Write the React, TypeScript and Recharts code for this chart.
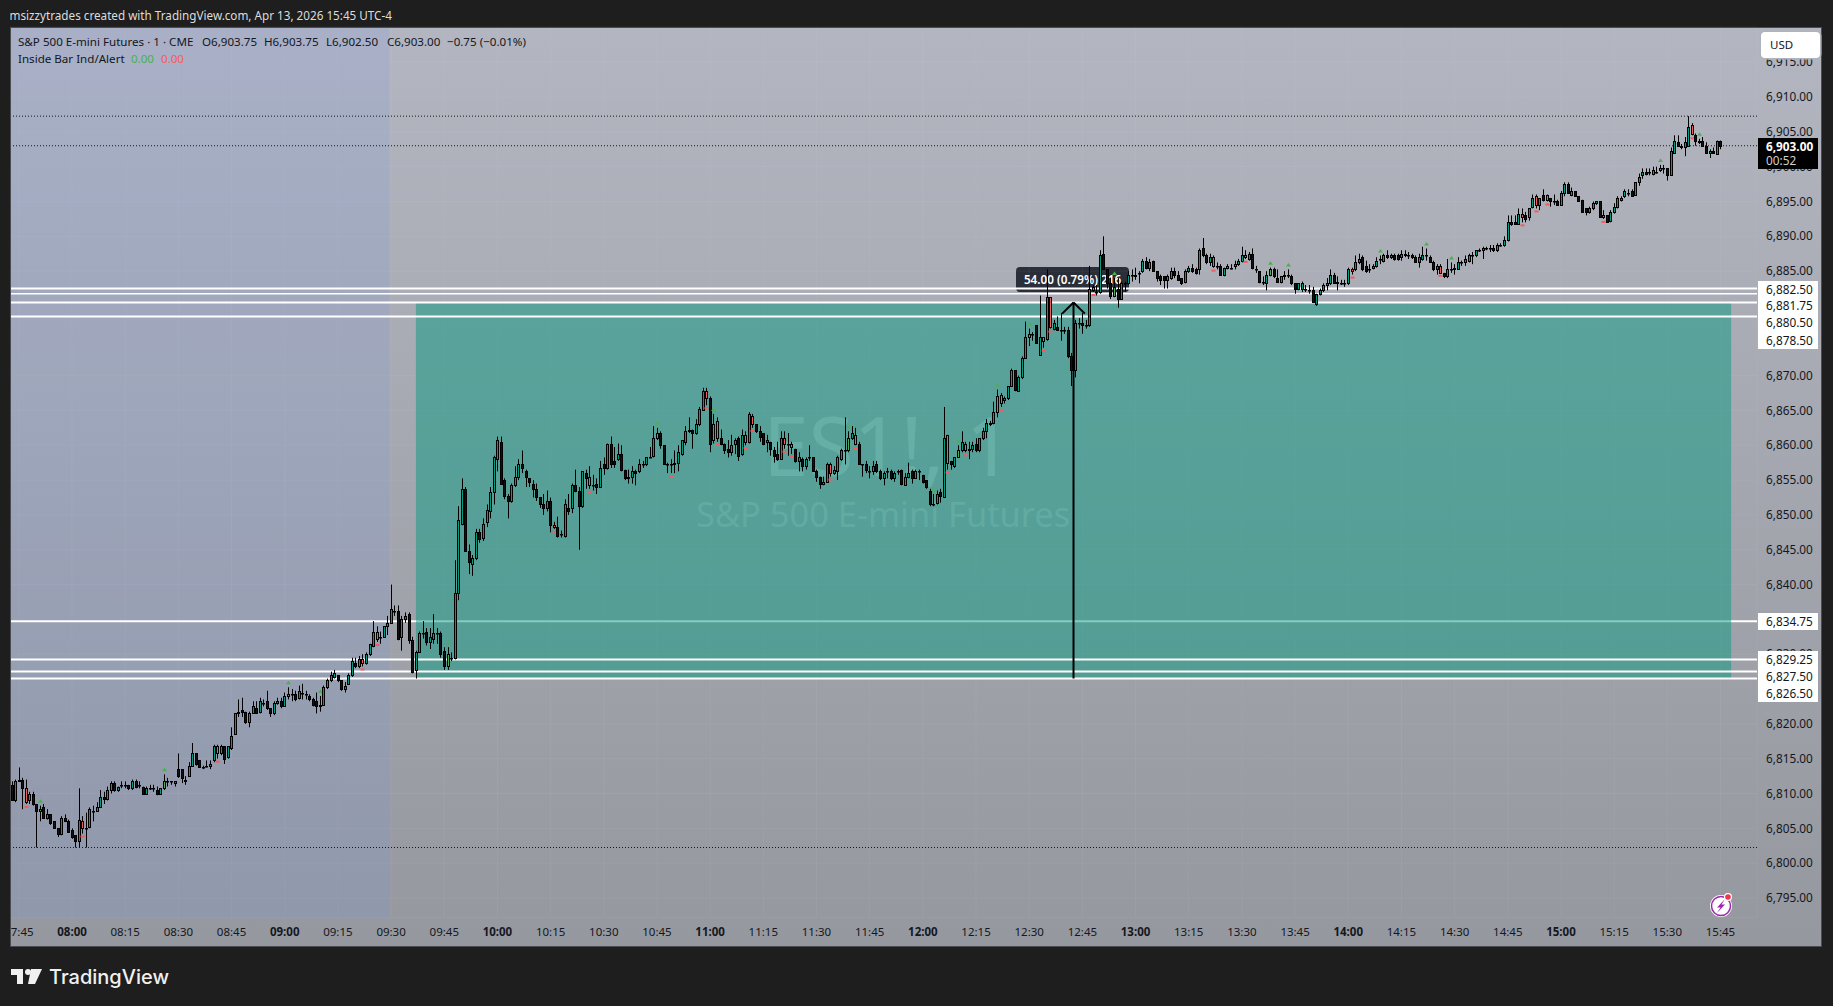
import React from "react";
import { Bar, CartesianGrid, ComposedChart, ReferenceArea, ReferenceLine, XAxis, YAxis } from "recharts";

// prices below are points above BASE, one candle per minute starting at 07:43
const BASE = 6800;
const FIRST_MINUTE = 463;

const opens = [
  11.25,9,11.75,12,10.75,9,10,8.5,7.5,8,
  6.5,7,6,5,4.25,6.5,6,4.75,4,3.25,
  6,5,5.25,7.5,7.5,8,9.5,9.25,10.5,11.5,
  10.5,11.25,11.25,11.25,10.75,11.75,11.25,11,10,10.75,
  10.75,10.5,10,10.75,11.75,11.75,11.5,13.5,13.5,11.75,
  12.5,14,15.75,14.75,13.75,14,14,14.75,16.75,15.75,
  16.75,15.25,16.5,18.5,21.5,22,21.75,20.25,21.5,22.25,
  21.75,23,23.25,22.25,21.5,23,23.25,22.5,24,24.25,
  24.25,23.75,24.5,24.25,24,23.5,23.25,22.5,22.75,25.25,
  26.25,26.75,27,26.25,25,25.75,27,28.75,28.25,29.25,
  28.75,30,31.25,33.25,32.5,32.5,34,34.5,36.25,36.25,
  32.5,35,35.75,32,27.75,30.25,33,33.25,31.75,32.25,
  33,33,30.5,28.25,29.5,29.5,38.75,48.75,53.75,44.75,
  43,43.75,47.5,46.75,49,50.5,53.25,58,60.5,55,
  52.75,52,54.25,55.5,57.25,56.25,55.25,54.5,53.75,52.5,
  51.5,51,52,48.5,48.25,47.25,47,51,51,54.25,
  53.5,51.25,56,55.5,54.25,54.5,54,57.25,56.75,60.25,
  57.75,58,58.75,56.5,55.25,55.5,56.25,56.25,57.25,57.25,
  58.25,58.5,61,61.75,60,57.25,57.25,57.25,57.5,58.75,
  60.5,62,62.25,61.75,63,65,67.75,66.75,60.75,63.5,
  61,60.25,59.5,59,60.25,61,58.75,61.5,60.5,64.25,
  63,62,61.75,60.5,60.5,59.25,58.75,58,61,60.25,
  60.25,59.5,57.75,58,57,58.25,58.25,56.25,55.5,54.5,
  54.75,57.25,56,56.25,58,59.25,59.25,61,61.5,60.25,
  57.25,57.25,56.25,56.25,57.25,56.25,55.25,56.25,56.25,55.25,
  56.25,56.5,54.25,55.5,56.25,55.25,56.25,55.75,55,53.5,
  51.5,51.75,53.25,52.5,61.5,57.75,57,58.25,59.25,60.25,
  59.25,59.5,60.25,59.25,61,62,63.25,63.25,64.75,67.25,
  66.5,66.75,68.5,70.75,67.75,69.75,72.5,75.5,76,77.25,
  73,75.5,75.25,81.25,76.75,77,76.5,76.5,76.5,72.75,
  70.75,77.5,77.5,77.25,77.25,82.75,82,82,87.5,85.25,
  83.25,81.5,82.5,81,83.25,83.25,84.5,84.5,84.75,85,
  86.5,85.5,86.5,85,84.25,84.25,83.75,84,85,84.5,
  84,83.5,85,85.5,85.25,85.25,88.25,87.25,86.25,87,
  85.75,85.75,84.5,85.5,85.5,85.75,86,86.5,87.25,86.75,
  87.5,85.25,85,83.5,83.25,84.5,85.25,84,83.5,84.25,
  84.5,84.25,83.25,82.5,82.5,82.5,82.25,82.25,80.25,81.75,
  82.25,83,83.25,84.5,83.5,83.25,83.25,83.25,85.25,85.25,
  86.25,87,85.75,85.25,85.5,85.75,86.75,86.5,87.25,87,
  87.25,87.25,87,87.5,87.25,87.25,87,86.25,86.75,87.25,
  87,86.25,85.25,85.75,84.75,84.25,85.25,85.5,85.25,86.25,
  86.25,86.5,87.25,87.25,88,88,88.25,88.25,88.25,88,
  88.75,88.75,89.5,92,92,91.75,93.25,93,92.75,94.25,
  95.75,94.5,96,96,95.5,95,95,94.5,96.25,97.5,
  96,96.5,95.75,95.25,94,93.5,94,94.75,95,93,
  93,92.25,93.5,94.25,95.25,95.75,96.25,96.5,96,97.75,
  98.75,99.25,99.25,99,99.25,99.5,99.75,99.75,98.75,102,
  103.5,103,102.75,103,106,104.5,103.75,103.75,103,102,
  102.25,101.75,103.75,
];

const highs = [
  11.75,12,13.75,12.25,12,10.25,10.25,8.5,8.25,8.5,
  7.75,7,6,5,6.75,7,6.25,5,4,10.75,
  6.75,7.25,8,8.25,8.75,10.5,10.25,11,11.75,11.75,
  11,11.75,11.75,11.25,12,12,11.75,11,11,11.25,
  11.25,11,10.75,12.75,12.25,11.75,11.75,15.75,13.5,12.5,
  14.5,17.25,15.75,14.75,14,14.75,14.75,17,17,17,
  16.75,16.75,19.5,21.5,23.5,23.75,21.75,21.75,23.25,23.25,
  23.75,23.5,24.75,22.25,23.25,23.75,23.75,24.5,25.25,25,
  24.75,25.5,25.75,24.75,24.25,23.75,24.5,24,25.5,26.5,
  27.5,27.75,27,26.25,26,27.25,29.5,29.5,29.75,30,
  30.25,31.5,34.75,34,33.25,34,35.5,40,37,37,
  35.5,36,36,32.5,30.5,33.25,34.75,33.75,33.75,35.75,
  33.75,33.25,31,31,30.25,43.5,51.25,55.25,54,45.75,
  44.25,48,48,49.5,51.5,54,58.5,61.25,61.25,55.25,
  53,54.5,57,58,59.25,56.5,55.25,55,54.5,52.5,
  53,53.5,52.5,49,49.75,47.75,52.25,53,54.5,56.5,
  54,56.25,56.5,57,55.75,55.25,57.75,58.25,60.25,61.25,
  59.75,60.25,60,56.5,56.5,57,56.5,58,57.75,58.25,
  59.75,62.75,62.5,62,60,57.5,58,59.25,60,60.75,
  62.75,64,62.25,63.75,65.5,68.25,68.25,67,64.5,64,
  62.25,60.25,60.75,61.5,61,61.25,62.25,62,64.75,64.5,
  63,62.75,61.75,61.5,60.5,59.75,60.5,62,62,61.75,
  60.5,59.5,59,58.25,58.25,60,58.25,56.5,55.5,55.5,
  57.5,57.5,57,58.5,59.5,64,62,62.75,62.5,60.5,
  57.25,57.75,57,57.75,57.75,56.5,56.25,56.75,56.5,56.25,
  56.5,56.5,56,57.5,56.5,56.5,56.5,55.75,55,53.75,
  53,53.5,53.75,65.5,61.5,57.75,58.25,60,62,60.5,
  60.5,60.5,61,61,62.5,63.75,63.5,66.25,68,67.5,
  67,68.5,71,70.75,70,72.75,77.75,76.75,76.25,77.25,
  81.5,75.5,85.25,81.25,78,78.5,79,77,77,73.25,
  78,78.25,79,78,85.75,83,83,88,90,85.25,
  84,84,84,83.5,83.5,85,85.25,85.5,85,86.75,
  87,86.75,86.5,85,84.5,84.25,84.5,85.5,85.5,85,
  84,85.25,85.75,86,85.5,88.25,89.75,87.5,87.5,87.25,
  86.25,86,85.5,86,86,86.5,86.75,88.5,88,87.75,
  88.25,85.75,85,84.25,85,85.5,85.5,85.25,84.25,85,
  85.25,84.5,83.25,83.25,83.5,83,83,82.75,81.75,82.5,
  83.25,84,85.25,84.75,84.25,83.75,83.75,85.5,85.5,87.25,
  87.5,87.25,86.5,86,86,87,87.25,87.5,88,87.5,
  87.5,87.5,88,88,87.75,87.5,87.25,87.5,88.5,88.25,
  87.25,86.5,86,86,84.75,86.75,86.25,86,87,86.5,
  87.25,87.5,87.75,88,88.25,88.5,88.5,88.75,88.75,89,
  89,90,93,93,93,94,94,93.5,94,96,
  96,95.5,96.75,96,95.5,96,95.25,96.5,97.75,97.75,
  97,96.5,95.75,95.25,94,94.25,95,95,95,93.75,
  93,93.75,94.75,95.75,95.75,96.75,96.75,96.75,97.75,99,
  99.75,99.75,99.75,100,100,100.25,100.25,99.75,102.75,104.5,
  104.5,103.25,104.25,107.25,106.25,104.75,104,104.25,103.5,102.5,
  102.75,103.75,103.75,
];

const lows = [
  9,8.75,11.75,7.75,8.5,8.5,8.25,2.25,6,6.5,
  6.25,5.5,5,3.75,4,6,4.5,3.5,2.25,2.25,
  4.25,2.25,5,6,7.5,8,8.5,9,10,10.25,
  10.25,10.75,10.75,10.5,10.5,10.75,10.75,10,10,10.5,
  10.25,9.75,10,10.5,11,11.25,11,12.25,11.5,11.25,
  12.5,14,14,13.75,13.5,13.75,13.5,14.5,15,15.5,
  14.25,15,16.25,18.5,21,21,20,19.5,21.5,21.5,
  21.5,22.5,22,21,21.25,22.75,22.25,22.5,23.5,23.25,
  23.25,23.5,23.5,23.5,23.25,22.5,21.5,21.75,22.75,25,
  26,26.5,26,24.75,24.5,25.75,26.75,28,28,28.25,
  28.5,29.75,31,31.75,31.5,32.5,32.75,34.5,35.5,32,
  30.5,34.5,31.5,27.25,26.5,30.25,32.25,31.25,30.75,31.5,
  31.5,29.5,27.75,27.75,29,29.25,37.75,48.5,44.75,41.5,
  41.25,43.5,46,46.25,48.25,49.5,51.5,56.25,54.5,52.25,
  49.5,51.75,54,55,56,54,54,52.5,52,51,
  50,50.5,47.5,48,46.75,46.75,46.75,50,50.25,53.25,
  45,51,53.75,53.75,53.5,53,54,55.75,56.5,56.75,
  56.75,57.75,56.25,55,54.5,54.5,54.25,56,56.75,57,
  58.25,58.25,60.75,59.5,57.25,56,56,56,56.25,58.5,
  60,61.75,59.5,61.5,62.75,65,65.75,59,60.25,60.5,
  60,58.75,58.25,58.5,58.75,57.75,58.5,60,60.25,62.5,
  61.75,60.5,60,59,58.5,57.5,57.75,58,59.5,58.5,
  58.75,57.5,56.25,56.25,56.5,57.75,56.25,54.75,53.75,54.25,
  54.75,55.5,55.75,55,57.75,57.25,59,60.75,60,57.25,
  55.5,56,55.25,55.75,56,55,54.25,55.25,55,54.75,
  55.75,54.25,54.25,55.25,54.5,55.25,55,54.5,53.75,51.25,
  51.25,51.5,51.75,52.5,56.5,56.5,56.75,58.25,59,59,
  58,59,59,59,60.75,61,62.75,63,64,65.5,
  66,66.5,68.5,67.75,67.75,69.5,72.5,74.25,75,74.75,
  73,74,75,76.75,76.5,76.5,75,76,72.5,68.5,
  69.75,76.75,76,76.75,77,82,81.5,81.75,85.25,82.5,
  81,81.25,79.75,81,82,83,83.5,83.75,83.25,84.75,
  85.25,85,85,83.5,83,82.5,82.5,83.75,84,83.75,
  83,83.25,84.75,84.75,84.5,84.5,87,86,85.75,85.5,
  85.25,84.5,84.25,85.25,85.25,85.25,85.75,86.25,86.75,86.5,
  85.25,84.75,83.25,83,82.25,84.25,84,83.5,83.25,83.75,
  84,83,81.75,82.25,82,82,81.75,80.5,80,81.5,
  82,82.25,83,83.25,82.25,83,82.75,83,84.5,85,
  86,85,84.75,84.75,85.25,85.5,86,86.25,86.75,86.75,
  86.5,86.5,86.5,87,86.75,86.75,86.25,85.5,86.5,86.5,
  86.25,85,84.5,84.75,84,84,84.75,84.5,85.25,85.75,
  85.75,86.25,86,87,87.75,86.75,88,87.75,87.75,87.75,
  88.5,88.5,89.25,91.5,91.75,92,92,92,92.25,94,
  94,93.75,95,95,94.25,94.5,94.5,94.5,95.75,96.25,
  95.75,95.75,95,93.5,93,93.25,93.75,94.5,92.75,92.5,
  92,92,93.25,94,95,95.5,95.75,95.75,96,97.25,
  98.25,98.75,98.75,98.75,99,99.25,99,98,98.75,102,
  103,102.5,101.5,103,104.5,103,103.25,103,102,101.25,
  102,101.75,102.5,
];

const closes = [
  9,11.75,12,10.75,8.75,10,8.5,7.5,7.75,6.5,
  7,5.75,5,4.25,6.5,6,4.5,3.75,3.25,6.25,
  5,5,7.75,7.5,8,9.5,9.25,10.5,11.5,10.5,
  11,11.25,11.25,10.75,11.75,11,11.25,10,10.75,10.75,
  10.75,10,10.75,11.75,11.75,11.75,11.75,12.5,12.25,12,
  14,15.75,14.25,13.75,13.75,14,14.25,16.75,15.75,16.75,
  15,16.75,18.25,21.5,21.75,21.75,20.25,21.5,22.5,21.5,
  23.25,23,22.25,21.5,23,23.25,22.5,24,24.25,24.25,
  23.5,24.75,24.5,24.25,23.5,22.75,22.5,22.75,25.25,26.25,
  27,27.25,26.25,25,25.5,27,29,28.25,29.25,28.75,
  30,31.5,33.25,32.25,32.5,34,34.5,36.5,36.25,32.25,
  35,35.5,32,27.5,30.25,33,33,31.75,32.5,33,
  33,30,28.25,30,29.5,38.75,49.25,53.75,44.75,43.25,
  43.75,47.5,46.5,48.75,50.75,53.25,58.25,60.75,54.5,52.75,
  52,54.25,55.5,57.25,56.75,55.5,54.75,53.75,52.5,51.5,
  51,52,48.5,48.25,47,47.25,51.5,50.5,54.25,53.5,
  51.25,56.25,55.25,54.25,54.25,54,56.75,56.75,60.25,57.25,
  57.25,58.75,56.5,55.25,55.5,56.25,56,57.25,57.25,58.25,
  58.25,61,61.75,60,57.25,57.25,57.25,57.5,59,60.75,
  62,62.25,61.75,63,65.25,67.75,66.75,60.25,63,61,
  60.25,59.25,59,60,60.75,58.5,61.5,60.5,64.5,63,
  62,61.25,60.25,60.75,59.5,58.5,58,61,60.25,60.25,
  59.75,57.75,58.25,57,58,58.25,56.25,55.5,54.5,54.75,
  57.25,56,56.5,58.25,59.25,59.25,61,61.75,60.25,57.25,
  57.25,56.5,56.25,57,56.25,55.25,56,56.25,55.25,56,
  56.25,54.5,55.5,56,55.25,56.25,56.25,54.75,54,51.5,
  51.5,53,52.75,61,57.5,57.25,58.25,59.25,60.5,59.25,
  59.5,60,59.25,61,62,63.25,63,64.75,67,66,
  66.75,68.5,70.75,68,69.75,72.5,75.5,76,76,74.75,
  75.5,75,81.25,77,77.5,76.5,76.5,76.5,72.75,70.75,
  77.5,77.5,77.25,77.25,82.5,82.25,82,87.25,85.25,83.25,
  81.5,82.75,81,83.25,83.25,84.5,84.5,84.25,84.75,86.5,
  85.5,86.25,85,84,83.75,83.75,84.25,85,84.5,83.75,
  83.25,85,85.5,85,84.75,88,87.25,86.25,87,85.75,
  85.75,84.5,85.5,85.75,85.5,86,86.5,87.25,87,87.5,
  85.5,85.25,83.5,83.5,84.5,85.25,84.25,83.5,84.25,84.5,
  84.5,83.25,82.5,83.25,83.25,82.5,82.25,80.5,81.75,82.25,
  83,83.25,84.5,83.25,83.25,83.25,83.25,85.25,85,86.25,
  86.75,85.25,85,85.25,85.75,86.5,86.75,87.25,87,87.25,
  86.75,86.75,87.5,87.25,87.25,87,86.25,87,87.25,87.25,
  86.25,85.25,85.75,84.75,84.25,85.25,85.25,85.25,86.25,86.25,
  86.75,87.25,87.25,88,88,88.25,88.25,88.25,88,88.75,
  88.75,89.5,92,91.75,91.75,93.25,92.75,92.5,94,95.5,
  94.5,95.5,95.25,95.25,95,95,94.5,96.25,97.5,96.25,
  96.5,95.75,95,93.5,93.5,94,94.75,95,92.75,92.75,
  92,93.5,94.25,95.5,95.5,96.5,96.25,95.75,97.75,98.5,
  99.25,99,99.25,99.5,99.25,99.75,99.75,98.75,102.25,103.75,
  103,102.75,103.5,105.75,104.75,103.75,103.5,103,102,102.25,
  102,103.75,103,
];

// minutes where the Inside Bar indicator fired
const bullAlerts = [471,506,541,550,586,645,661,699,723,730,741,750,774,818,823,849,862,869,928,939];
const bearAlerts = [467,483,521,562,566,616,626,649,659,662,670,672,681,683,694,701,727,732,742,754,756,768,802,811,841,866,889,893,896,912,937];

const timeTicks = [465,480,495,510,525,540,555,570,585,600,615,630,645,660,675,690,705,720,735,750,765,780,795,810,825,840,855,870,885,900,915,930,945];
// 6825, 6835, 6875 and 6880 sit fully behind the white level tags, so they are left out
const priceTicks = [6795,6800,6805,6810,6815,6820,6830,6840,6845,6850,6855,6860,6865,6870,6885,6890,6895,6900,6905,6910,6915];

const whiteLevels = [6882.5,6881.75,6880.5,6878.5,6829.25,6827.5,6826.5];
const dottedLevels = [6907.25,6903,6802.25];
const rangeLow = 6826.5;
const rangeHigh = 6880.5;
const arrowMinute = 762.5;

const candles = opens.map((o, i) => ({
  minute: FIRST_MINUTE + i,
  open: BASE + o,
  high: BASE + highs[i],
  low: BASE + lows[i],
  close: BASE + closes[i],
}));

const fontFamily = "'Noto Sans', sans-serif";
const textColor = "#131722";

const fmtTime = (m: number) => `${String(Math.floor(m / 60)).padStart(2, "0")}:${String(m % 60).padStart(2, "0")}`;
const fmtPrice = (v: number) => v.toLocaleString("en-US", { minimumFractionDigits: 2, maximumFractionDigits: 2 });

function Candle(props: any) {
  const { x, y, width, height, payload } = props;
  const cx = Math.round(x + width / 2) + 0.5;
  const perPoint = height / (payload.high - payload.low || 1);
  const py = (p: number) => y + (payload.high - p) * perPoint;
  const bull = bullAlerts.includes(payload.minute);
  const bear = bearAlerts.includes(payload.minute);
  let fill = payload.close >= payload.open ? "#089981" : "#111111";
  if (bull) fill = "#4caf50";
  if (bear) fill = "#f55b5b";
  const bodyTop = Math.round(py(Math.max(payload.open, payload.close))) + 0.5;
  const bodyBottom = Math.round(py(Math.min(payload.open, payload.close))) + 0.5;
  const bottom = y + height;
  return (
    <g>
      <line x1={cx} x2={cx} y1={y} y2={bottom} stroke="#000" strokeWidth={1} />
      <rect x={cx - 1} y={bodyTop} width={2} height={Math.max(bodyBottom - bodyTop, 0.5)} fill={fill} stroke="#000" strokeWidth={1} />
      {bull && <path d={`M${cx - 2.5} ${y - 3} L${cx} ${y - 6.5} L${cx + 2.5} ${y - 3} Z`} fill="#4caf50" />}
      {bear && <rect x={cx - 2} y={bottom + 2} width={4} height={2} fill="#f55b5b" />}
    </g>
  );
}

function TimeTick(props: any) {
  const { x, y, payload } = props;
  const hour = payload.value % 60 === 0;
  return (
    <text x={x} y={y + 10} textAnchor="middle" fontFamily={fontFamily} fontSize={11.5} fontWeight={hour ? 700 : 400} fill={textColor}>
      {fmtTime(payload.value)}
    </text>
  );
}

function PriceTag({ top, label }: { top: number; label: string }) {
  return (
    <div style={{ position: "absolute", left: 1766, top, fontSize: 11.8, lineHeight: "17px", color: textColor }}>{label}</div>
  );
}

function LegendText({ left, top, color = textColor, children }: { left: number; top: number; color?: string; children: React.ReactNode }) {
  return (
    <div style={{ position: "absolute", left, top, fontSize: 11.6, lineHeight: "18px", color, whiteSpace: "pre" }}>{children}</div>
  );
}

export default function App() {
  return (
    <div style={{ position: "absolute", left: 0, top: 0, width: 1833, height: 1006, background: "#1e1e1e", overflow: "hidden", fontFamily }}>
      <div style={{ position: "absolute", left: 9.5, top: 6, fontSize: 11.7, lineHeight: "18px", color: "#dcdcdc", whiteSpace: "nowrap" }}>
        msizzytrades created with TradingView.com, Apr 13, 2026 15:45 UTC-4
      </div>

      {/* pane background, watermark and the measure label sit behind the chart svg */}
      <div style={{ position: "absolute", left: 10, top: 27, width: 1812, height: 920, background: "linear-gradient(#b3b5c0, #96989f)" }} />
      <div style={{ position: "absolute", left: 763, top: 394, fontSize: 82, lineHeight: "100px", color: "rgba(255,255,255,0.33)", whiteSpace: "nowrap" }}>ES1!, 1</div>
      <div style={{ position: "absolute", left: 696, top: 490, fontSize: 34.4, lineHeight: "48px", color: "rgba(255,255,255,0.26)", whiteSpace: "nowrap" }}>S&amp;P 500 E-mini Futures</div>
      <div style={{ position: "absolute", left: 1016, top: 267, width: 113, height: 25, borderRadius: 4, background: "#2a2e39", color: "#fff", fontSize: 11.7, fontWeight: 600, lineHeight: "25px", textAlign: "center", whiteSpace: "nowrap" }}>
        54.00 (0.79%) 216
      </div>

      <div style={{ position: "absolute", left: 0, top: 0 }}>
        <ComposedChart width={1833} height={1006} data={candles} margin={{ top: 27, right: 0, bottom: 0, left: 10 }}>
          <CartesianGrid stroke="rgba(255,255,255,0.05)" />
          <XAxis
            dataKey="minute"
            type="number"
            domain={[462.5, 955.3]}
            allowDataOverflow
            ticks={timeTicks}
            interval={0}
            height={88.3}
            axisLine={false}
            tickLine={false}
            tick={<TimeTick />}
          />
          <YAxis
            orientation="right"
            type="number"
            domain={[6792.17, 6920.05]}
            allowDataOverflow
            ticks={priceTicks}
            interval={0}
            width={76}
            axisLine={false}
            tickLine={false}
            tickMargin={3}
            tickFormatter={fmtPrice}
            tick={{ fontSize: 11.8, fill: textColor, fontFamily }}
          />
          <ReferenceArea x1={462.5} x2={569.5} y1={6792.17} y2={6920.05} fill="#6493fa" fillOpacity={0.13} stroke="none" zIndex={40} />
          <ReferenceLine y={6834.75} stroke="#fff" strokeWidth={2} zIndex={50} />
          <ReferenceArea x1={577} x2={948} y1={rangeLow} y2={rangeHigh} fill="#089981" fillOpacity={0.5} stroke="none" zIndex={60} />
          {whiteLevels.map((level) => (
            <ReferenceLine key={level} y={level} stroke="#fff" strokeWidth={level === 6881.75 ? 1.5 : 2} zIndex={70} />
          ))}
          {dottedLevels.map((level) => (
            <ReferenceLine key={level} y={level} stroke={textColor} strokeWidth={1} strokeDasharray="1 2" zIndex={70} />
          ))}
          <ReferenceLine segment={[{ x: arrowMinute, y: rangeLow }, { x: arrowMinute, y: rangeHigh }]} stroke="#000" strokeWidth={2} zIndex={80} />
          <ReferenceLine segment={[{ x: arrowMinute - 3.2, y: rangeHigh - 1.6 }, { x: arrowMinute, y: rangeHigh }]} stroke="#000" strokeWidth={2} zIndex={80} />
          <ReferenceLine segment={[{ x: arrowMinute + 3.2, y: rangeHigh - 1.6 }, { x: arrowMinute, y: rangeHigh }]} stroke="#000" strokeWidth={2} zIndex={80} />
          <Bar dataKey={(d: any) => [d.low, d.high]} barSize={3} shape={<Candle />} isAnimationActive={false} />
        </ComposedChart>
      </div>

      {/* dark page edge hides the part of the first time label that runs off the pane */}
      <div style={{ position: "absolute", left: 0, top: 27, width: 10, height: 920, background: "#1e1e1e" }} />
      <div style={{ position: "absolute", left: 10, top: 27, width: 1812, height: 920, boxSizing: "border-box", border: "1px solid #4a4c52", pointerEvents: "none" }} />

      <LegendText left={18} top={33}>S&amp;P 500 E-mini Futures · 1 · CME</LegendText>
      <LegendText left={202} top={33}>O6,903.75</LegendText>
      <LegendText left={264} top={33}>H6,903.75</LegendText>
      <LegendText left={326} top={33}>L6,902.50</LegendText>
      <LegendText left={387} top={33}>C6,903.00</LegendText>
      <LegendText left={447} top={33}>−0.75 (−0.01%)</LegendText>
      <LegendText left={18} top={50}>Inside Bar Ind/Alert</LegendText>
      <LegendText left={131} top={50} color="#4caf50">0.00</LegendText>
      <LegendText left={161} top={50} color="#f55b5b">0.00</LegendText>

      <div style={{ position: "absolute", left: 1761, top: 32, width: 59, height: 26, boxSizing: "border-box", borderRadius: 4, background: "#fff", boxShadow: "0 0 0 1.5px #b0b2bc", paddingLeft: 9, fontSize: 11.5, lineHeight: "25px", color: textColor }}>USD</div>

      <div style={{ position: "absolute", left: 1758, top: 138, width: 60, height: 31, background: "#000" }}>
        <div style={{ position: "absolute", left: 8, top: 0, fontSize: 11.8, fontWeight: 700, lineHeight: "16px", color: "#fff" }}>6,903.00</div>
        <div style={{ position: "absolute", left: 8, top: 15, fontSize: 11.8, lineHeight: "15px", color: "#d0d0d0" }}>00:52</div>
      </div>

      <div style={{ position: "absolute", left: 1758, top: 281, width: 60, height: 68, background: "#fff" }} />
      <PriceTag top={281} label="6,882.50" />
      <PriceTag top={297} label="6,881.75" />
      <PriceTag top={314} label="6,880.50" />
      <PriceTag top={332} label="6,878.50" />

      <div style={{ position: "absolute", left: 1758, top: 613, width: 60, height: 17, background: "#fff" }} />
      <PriceTag top={613} label="6,834.75" />
      <div style={{ position: "absolute", left: 1758, top: 651, width: 60, height: 51, background: "#fff" }} />
      <PriceTag top={651} label="6,829.25" />
      <PriceTag top={668} label="6,827.50" />
      <PriceTag top={685} label="6,826.50" />

      <svg style={{ position: "absolute", left: 1706, top: 889 }} width={34} height={34}>
        <circle cx={15} cy={17} r={11} fill="#fff" />
        <circle cx={15} cy={17} r={9.5} fill="#fff" stroke="#9c27b0" strokeWidth={1.5} />
        <path d="M19 10 L11 18.5 L14.5 18.5 L11 24 L19 15.5 L15.5 15.5 Z" fill="#9c27b0" />
        <circle cx={22} cy={8} r={4} fill="#fff" />
        <circle cx={22} cy={8} r={2.8} fill="#f23645" />
      </svg>

      <svg style={{ position: "absolute", left: 11, top: 968 }} width={32} height={17} fill="#f0f0f0">
        <path d="M0 1 H12 V16 H6 V7 H0 Z" />
        <circle cx={17} cy={4} r={3} />
        <path d="M20 1 H31 L24 16 H17 Z" />
      </svg>
      <div style={{ position: "absolute", left: 49, top: 963, fontFamily: "Inter, sans-serif", fontSize: 20, fontWeight: 500, lineHeight: "28px", color: "#f0f0f0", whiteSpace: "nowrap" }}>
        TradingView
      </div>
    </div>
  );
}
